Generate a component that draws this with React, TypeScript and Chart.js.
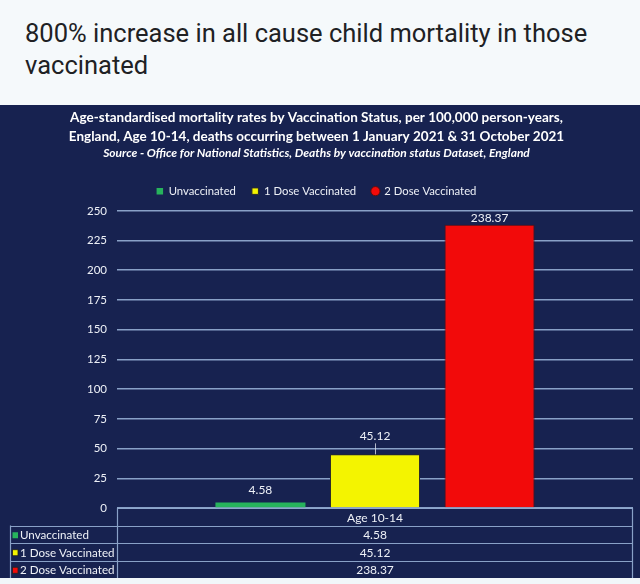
import React, { useEffect, useRef } from "react";
import { Chart, registerables } from "chart.js";

Chart.register(...registerables);

// ---- data ----
const categories = ["Age 10-14"];
const seriesNames = ["Unvaccinated", "1 Dose Vaccinated", "2 Dose Vaccinated"];
const unvaccinated = [4.58];
const oneDose = [45.12];
const twoDose = [238.37];
const yMin = 0;
const yMax = 250;
const yStep = 25;
const headline = ["800% increase in all cause child mortality in those", "vaccinated"];
const chartTitle = [
  "Age-standardised mortality rates by Vaccination Status, per 100,000 person-years,",
  "England, Age 10-14, deaths occurring between 1 January 2021 & 31 October 2021",
];
const chartSubtitle = "Source - Office for National Statistics, Deaths by vaccination status Dataset, England";

// ---- style ----
const FONT = "Lato, 'Open Sans', 'DejaVu Sans', sans-serif";
const NAVY = "#172250";
const GRID = "rgba(150,175,212,0.9)";
const TEXT = "#eef1f7";
const fillColors = ["#27b35c", "#f4f400", "#f20a0a"];
const borderColors = ["#27b35c", "#2a2a2a", "#5a1010"];
const borderWidths = [0, 1, 1];
const pointStyles = ["rect", "rect", "circle"];
const labelOffsets = [12, 18, 12];
const leaderLines = [false, true, false];

const seriesValues = [unvaccinated, oneDose, twoDose];

const tablePlugin = {
  id: "dataTable",
  afterDatasetsDraw(chart: any) {
    const ctx = chart.ctx;
    const area = chart.chartArea;
    ctx.save();
    ctx.font = `12px ${FONT}`;
    ctx.fillStyle = TEXT;
    ctx.textAlign = "center";
    ctx.textBaseline = "middle";
    chart.data.datasets.forEach((ds: any, i: number) => {
      const meta = chart.getDatasetMeta(i);
      meta.data.forEach((bar: any, j: number) => {
        const v = ds.data[j] as number;
        let y = bar.y - labelOffsets[i];
        y = Math.max(y, area.top + 7);
        ctx.fillText(v.toFixed(2), bar.x, y);
        if (leaderLines[i]) {
          ctx.strokeStyle = "rgba(220,225,235,0.8)";
          ctx.lineWidth = 1;
          ctx.beginPath();
          ctx.moveTo(bar.x + 0.5, bar.y);
          ctx.lineTo(bar.x + 0.5, y + 7);
          ctx.stroke();
        }
      });
    });
    ctx.restore();
  },
  afterDraw(chart: any) {
    const ctx = chart.ctx;
    const area = chart.chartArea;
    const L = area.left;
    const R = area.right;
    const top = area.bottom;
    const rows = 1 + chart.data.datasets.length;
    const rowH = (chart.height - top) / rows;
    const leftCol = 10.5;
    ctx.save();
    ctx.strokeStyle = GRID;
    ctx.lineWidth = 1.2;
    ctx.beginPath();
    ctx.moveTo(L, Math.round(top) + 0.5);
    ctx.lineTo(R, Math.round(top) + 0.5);
    for (let k = 1; k < rows; k++) {
      const y = Math.round(top + k * rowH) + 0.5;
      ctx.moveTo(leftCol, y);
      ctx.lineTo(R, y);
    }
    ctx.moveTo(Math.round(L) + 0.5, top);
    ctx.lineTo(Math.round(L) + 0.5, chart.height);
    ctx.moveTo(Math.round(R) - 0.5, top);
    ctx.lineTo(Math.round(R) - 0.5, chart.height);
    ctx.moveTo(leftCol, top + rowH);
    ctx.lineTo(leftCol, chart.height);
    ctx.stroke();

    ctx.font = `12px ${FONT}`;
    ctx.fillStyle = TEXT;
    ctx.textBaseline = "middle";
    const xScale = chart.scales.x;
    categories.forEach((c, j) => {
      const cx = xScale.getPixelForValue(j);
      ctx.textAlign = "center";
      ctx.fillStyle = TEXT;
      ctx.fillText(c, cx, top + rowH / 2 + 1);
      chart.data.datasets.forEach((ds: any, i: number) => {
        const cy = top + rowH * (i + 1) + rowH / 2 + 1;
        ctx.fillText((ds.data[j] as number).toFixed(2), cx, cy);
      });
    });
    ctx.font = `11.6px ${FONT}`;
    chart.data.datasets.forEach((ds: any, i: number) => {
      const cy = top + rowH * (i + 1) + rowH / 2 + 1;
      ctx.fillStyle = fillColors[i];
      ctx.fillRect(12.5, cy - 3, 5.5, 6);
      if (borderWidths[i] > 0) {
        ctx.strokeStyle = "#222";
        ctx.lineWidth = 0.8;
        ctx.strokeRect(12.5, cy - 3, 5.5, 6);
      }
      ctx.fillStyle = TEXT;
      ctx.textAlign = "left";
      ctx.fillText(ds.label, 20, cy);
    });
    ctx.restore();
  },
};

export default function App() {
  const canvasRef = useRef<HTMLCanvasElement | null>(null);

  useEffect(() => {
    if (!canvasRef.current) return;
    const chart = new Chart(canvasRef.current, {
      type: "bar",
      data: {
        labels: categories,
        datasets: seriesNames.map((name, i) => ({
          label: name,
          data: seriesValues[i],
          backgroundColor: fillColors[i],
          borderColor: borderColors[i],
          borderWidth: borderWidths[i],
          pointStyle: pointStyles[i] as any,
          categoryPercentage: 0.666,
          barPercentage: 0.786,
        })),
      },
      options: {
        responsive: false,
        animation: false,
        layout: { padding: { top: 3, left: 0, right: 7, bottom: 70 } },
        plugins: {
          tooltip: { enabled: false },
          title: {
            display: true,
            text: chartTitle,
            color: "#ffffff",
            font: { family: FONT, size: 13.5, weight: "bold", lineHeight: 1.4 },
            padding: { top: 0, bottom: 0.5 },
          },
          subtitle: {
            display: true,
            text: chartSubtitle,
            color: "#ffffff",
            font: { family: FONT, size: 12, weight: "bold", style: "italic", lineHeight: 1.1 },
            padding: { top: 0, bottom: 10 },
          },
          legend: {
            display: true,
            position: "top",
            labels: {
              usePointStyle: true,
              boxWidth: 6.5,
              boxHeight: 6.5,
              padding: 16,
              color: TEXT,
              font: { family: FONT, size: 11.3 },
            },
          },
        },
        scales: {
          x: { display: false },
          xTop: {
            type: "category",
            position: "top",
            display: true,
            grid: { display: false },
            border: { display: false },
            ticks: { display: false },
            afterFit: (s: any) => {
              s.height = 4;
            },
          },
          y: {
            min: yMin,
            max: yMax,
            ticks: {
              stepSize: yStep,
              color: TEXT,
              padding: 10,
              font: { family: FONT, size: 11.5 },
            },
            grid: { color: GRID, lineWidth: 1.5, drawTicks: false },
            border: { display: false },
            afterFit: (s: any) => {
              s.width = 117;
            },
          },
        } as any,
      },
      plugins: [tablePlugin],
    });
    return () => chart.destroy();
  }, []);

  return (
    <div
      style={{
        position: "absolute",
        left: 0,
        top: 0,
        width: 640,
        height: 584,
        background: "#f1f6f9",
        overflow: "hidden",
      }}
    >
      <div
        style={{
          position: "absolute",
          left: 0,
          top: 0,
          width: 640,
          height: 105,
          background: "#f5f9fb",
          fontFamily: "Roboto, 'Noto Sans', sans-serif",
          fontSize: 25.5,
          lineHeight: "32px",
          color: "#202124",
          boxSizing: "border-box",
          padding: "17px 0 0 25px",
          whiteSpace: "nowrap",
        }}
      >
        {headline[0]}
        <br />
        {headline[1]}
      </div>
      <div
        style={{
          position: "absolute",
          left: 0,
          top: 105,
          width: 640,
          height: 473,
          background: NAVY,
        }}
      >
        <canvas ref={canvasRef} width={640} height={473} style={{ display: "block" }} />
      </div>
    </div>
  );
}
